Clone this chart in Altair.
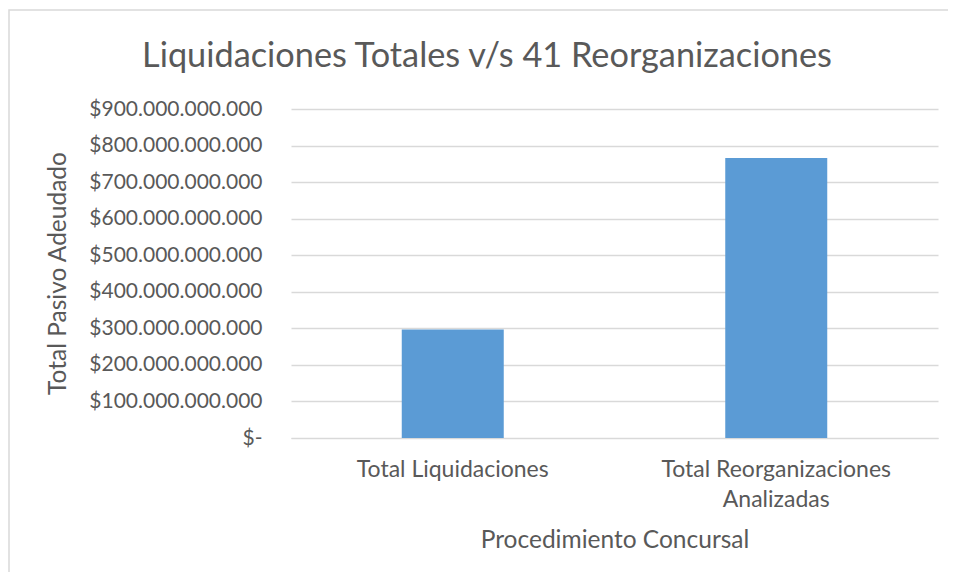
import altair as alt
import pandas as pd

categories = ["Total Liquidaciones", "Total Reorganizaciones Analizadas"]
values = [297_000_000_000, 766_000_000_000]
y_ticks = [i * 100_000_000_000 for i in range(10)]
title_text = "Liquidaciones Totales v/s 41 Reorganizaciones"

df = pd.DataFrame({"cat": categories, "val": values})

FONT = "Lato"
TEXT = "#595959"

bars = alt.Chart(df).mark_bar(size=102, color="#5B9BD5").encode(
    x=alt.X(
        "cat:N",
        sort=categories,
        scale=alt.Scale(paddingInner=0, paddingOuter=0),
        axis=alt.Axis(
            title="Procedimiento Concursal",
            labelAngle=0,
            labelFont=FONT,
            labelFontSize=23,
            labelColor=TEXT,
            labelLimit=0,
            labelPadding=20,
            labelLineHeight=30,
            labelBaseline="top",
            labelExpr="datum.label == 'Total Reorganizaciones Analizadas' ? ['Total Reorganizaciones', 'Analizadas'] : datum.label",
            ticks=False,
            domain=True,
            domainColor="#D9D9D9",
            titleFont=FONT,
            titleFontSize=24.5,
            titleFontWeight="normal",
            titleColor=TEXT,
            titleY=102,
            titleBaseline="middle",
        ),
    ),
    y=alt.Y(
        "val:Q",
        scale=alt.Scale(domain=[0, 900_000_000_000], nice=False),
        axis=alt.Axis(
            title="Total Pasivo Adeudado",
            values=y_ticks,
            labelExpr="datum.value == 0 ? '$-' : '$' + format(datum.value / 1e9, 'd') + '.000.000.000'",
            labelFont=FONT,
            labelFontSize=21,
            labelColor=TEXT,
            labelLimit=0,
            labelPadding=29,
            ticks=False,
            domain=False,
            grid=True,
            gridColor="#D9D9D9",
            gridWidth=1.3,
            titleFont=FONT,
            titleFontSize=24.5,
            titleFontWeight="normal",
            titleColor=TEXT,
            titleX=-233,
            titleY=164,
            titleAngle=-90,
            titleAlign="center",
            titleBaseline="middle",
        ),
    ),
)

border = alt.Chart(pd.DataFrame({"a": [0]})).mark_rect(
    fill=None, stroke="#D9D9D9", strokeWidth=1.5
).encode(
    x=alt.value(-282), x2=alt.value(700), y=alt.value(-99), y2=alt.value(520)
)

title = alt.Chart(pd.DataFrame({"t": [title_text]})).mark_text(
    font=FONT, fontSize=34.3, color=TEXT, align="center", baseline="alphabetic"
).encode(text="t:N", x=alt.value(196), y=alt.value(-42))

chart = alt.layer(border, bars, title).properties(
    width=647,
    height=329,
    autosize=alt.AutoSizeParams(type="none"),
    padding={"left": 283, "top": 101, "right": 10, "bottom": 134},
).configure_view(stroke=None)

chart.save("out.html", embed_options={"renderer": "svg", "actions": False})
